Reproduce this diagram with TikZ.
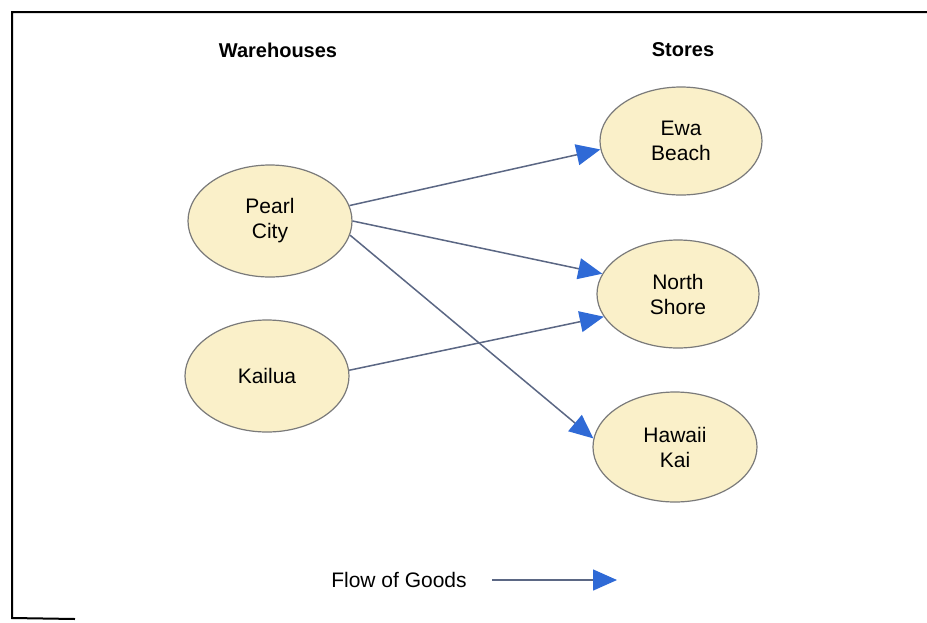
\documentclass[tikz,border=0pt]{standalone}
\usepackage{fontspec}
\setmainfont{Liberation Sans}
\usepackage{xcolor}
\usepackage{tikz}
\usetikzlibrary{positioning,shapes.geometric,arrows.meta}
\definecolor{cream}{HTML}{FAF0C9}
\definecolor{rim}{HTML}{7A7A7A}
\definecolor{wire}{HTML}{5B6784}
\definecolor{tipblue}{HTML}{2F6AD6}
\tikzset{
  site/.style={ellipse,draw=rim,fill=cream,line width=0.6pt,align=center,
    inner sep=0pt,minimum width=82pt,minimum height=56pt,
    font=\fontsize{10.5}{12.5}\selectfont},
  head/.style={font=\fontsize{10}{12}\selectfont\bfseries},
  goods/.style={-{Triangle[length=12pt,width=10.5pt,color=tipblue]},draw=wire,line width=0.75pt},
}

\begin{document}
\begin{tikzpicture}[x=0.5pt,y=-0.5pt,node distance=4mm]
  \useasboundingbox[fill=white] (0,0) rectangle (927,622);
  \draw[line width=1pt] (927,12) -- (12,12) -- (12,618) -- (75,619);
  % warehouses
  \node[head] (wh) at (278,50) {Warehouses};
  \node[site] (pearl) at (270,221) {Pearl\\City};
  \node[site] (kailua) at (267,376) {Kailua};
  % stores
  \node[head] (st) at (683,50) {Stores};
  \node[site,minimum width=81pt,minimum height=54pt] (ewa) at (681,141) {Ewa\\Beach};
  \node[site,minimum width=81pt,minimum height=54pt] (north) at (678,294) {North\\Shore};
  \node[site,minimum width=82pt,minimum height=55pt] (hawaii) at (675,447) {Hawaii\\Kai};
  \draw[goods] (pearl.11) -- (ewa.186);
  \draw[goods] (pearl.0) -- (north.165);
  \draw[goods] (pearl.-10) -- (hawaii.174);
  \draw[goods] (kailua.4) -- (north.197);
  % legend
  \node[font=\fontsize{10.5}{12.5}\selectfont] (flow) at (399,580) {Flow of Goods};
  \coordinate (flowA) at (492,580);
  \coordinate (flowB) at (617,580);
  \draw[goods] (flowA) -- (flowB);
\end{tikzpicture}
\end{document}
